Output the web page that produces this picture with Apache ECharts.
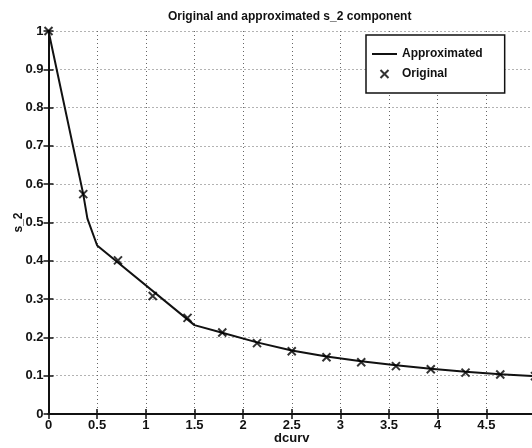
<!DOCTYPE html>
<html>
<head>
<meta charset="utf-8">
<script src="https://cdn.jsdelivr.net/npm/echarts@6/dist/echarts.min.js"></script>
<style>
  html, body { margin: 0; padding: 0; background: #fff; }
  #chart { width: 532px; height: 448px; }
</style>
</head>
<body>
<div id="chart"></div>
<script>
// Sampled s_2 component against dcurv
var origX = [0, 0.357, 0.714, 1.071, 1.429, 1.786, 2.143, 2.5, 2.857, 3.214, 3.571, 3.929, 4.286, 4.643, 5.0];
var origY = [1.0, 0.574, 0.401, 0.308, 0.251, 0.213, 0.185, 0.164, 0.148, 0.135, 0.125, 0.117, 0.108, 0.103, 0.099];

// Piecewise approximation of the same component
var approxX = [0, 0.357, 0.40, 0.5, 1.5, 1.786, 2.143, 2.5, 2.857, 3.214, 3.571, 3.929, 4.286, 4.643, 5.0];
var approxY = [1.0, 0.574, 0.51, 0.44, 0.232, 0.212, 0.187, 0.166, 0.150, 0.138, 0.127, 0.118, 0.110, 0.104, 0.099];

var xTicks = [0, 0.5, 1, 1.5, 2, 2.5, 3, 3.5, 4, 4.5, 5];
var yTicks = [0, 0.1, 0.2, 0.3, 0.4, 0.5, 0.6, 0.7, 0.8, 0.9, 1];

function pairs(xs, ys) {
  return xs.map(function (x, i) { return [x, ys[i]]; });
}

var FONT = '"Liberation Sans", Arial, Helvetica, sans-serif';
var crossPath = 'path://M0,0L10,10M10,0L0,10';
var barPath = 'path://M0,0L25,0L25,2L0,2Z';

var axisLineStyle = { color: '#111', width: 2 };
var tickStyle = { inside: true, length: 5, lineStyle: { color: '#111', width: 1.5 } };
var dotted = { color: '#666', width: 1, type: [1, 3] };

var chart = echarts.init(document.getElementById('chart'), null, { renderer: 'canvas' });

chart.setOption({
  animation: false,
  backgroundColor: '#fff',
  title: {
    text: 'Original and approximated s_2 component',
    left: 163,
    top: 6,
    textStyle: { fontFamily: FONT, fontSize: 12, fontWeight: 'bold', color: '#111' }
  },
  legend: {
    orient: 'vertical',
    left: 366,
    top: 35,
    padding: [13, 22, 13, 6],
    itemGap: 8,
    itemWidth: 25,
    itemHeight: 8,
    borderColor: '#111',
    borderWidth: 1.5,
    backgroundColor: '#fff',
    textStyle: { fontFamily: FONT, fontSize: 12, fontWeight: 'bold', color: '#111' },
    data: [
      { name: 'Approximated', icon: barPath, itemStyle: { color: '#111', borderWidth: 0 } },
      { name: 'Original', icon: crossPath }
    ]
  },
  grid: { left: 48.5, right: -3, top: 31, bottom: 34, outerBoundsMode: 'none', containLabel: false },
  xAxis: [
    {
      type: 'value',
      min: xTicks[0],
      max: xTicks[xTicks.length - 1],
      interval: 0.5,
      name: 'dcurv',
      nameLocation: 'middle',
      nameGap: 18,
      nameMoveOverlap: false,
      nameTextStyle: { fontFamily: FONT, fontSize: 13, fontWeight: 'bold', color: '#111' },
      axisLine: { lineStyle: axisLineStyle },
      axisTick: tickStyle,
      axisLabel: { margin: 5, fontFamily: FONT, fontSize: 13, fontWeight: 'bold', color: '#111' },
      splitLine: { show: true, lineStyle: dotted }
    },
    {
      type: 'value',
      position: 'top',
      min: xTicks[0],
      max: xTicks[xTicks.length - 1],
      interval: 0.5,
      axisLine: { lineStyle: axisLineStyle },
      axisTick: tickStyle,
      axisLabel: { show: false },
      splitLine: { show: false }
    }
  ],
  yAxis: [
    {
      type: 'value',
      min: yTicks[0],
      max: yTicks[yTicks.length - 1],
      interval: 0.1,
      name: 's_2',
      nameLocation: 'middle',
      nameRotate: 90,
      nameGap: 24,
      nameMoveOverlap: false,
      nameTextStyle: { fontFamily: FONT, fontSize: 12, fontWeight: 'bold', color: '#111' },
      axisLine: { lineStyle: axisLineStyle },
      axisTick: tickStyle,
      axisLabel: { margin: 5, fontFamily: FONT, fontSize: 13, fontWeight: 'bold', color: '#111' },
      splitLine: { show: true, lineStyle: dotted }
    },
    {
      type: 'value',
      position: 'right',
      min: yTicks[0],
      max: yTicks[yTicks.length - 1],
      interval: 0.1,
      axisLine: { lineStyle: axisLineStyle },
      axisTick: tickStyle,
      axisLabel: { show: false },
      splitLine: { show: false }
    }
  ],
  series: [
    {
      name: 'Approximated',
      type: 'line',
      xAxisIndex: 0,
      yAxisIndex: 0,
      symbol: 'none',
      data: pairs(approxX, approxY),
      lineStyle: { color: '#111', width: 2 },
      itemStyle: { color: '#111' },
      z: 3
    },
    {
      name: 'Original',
      type: 'scatter',
      xAxisIndex: 0,
      yAxisIndex: 0,
      symbol: crossPath,
      symbolSize: 8,
      clip: false,
      data: pairs(origX, origY),
      itemStyle: { color: 'rgba(0,0,0,0)', borderColor: '#000', borderWidth: 2 },
      z: 4
    }
  ]
});
</script>
</body>
</html>
